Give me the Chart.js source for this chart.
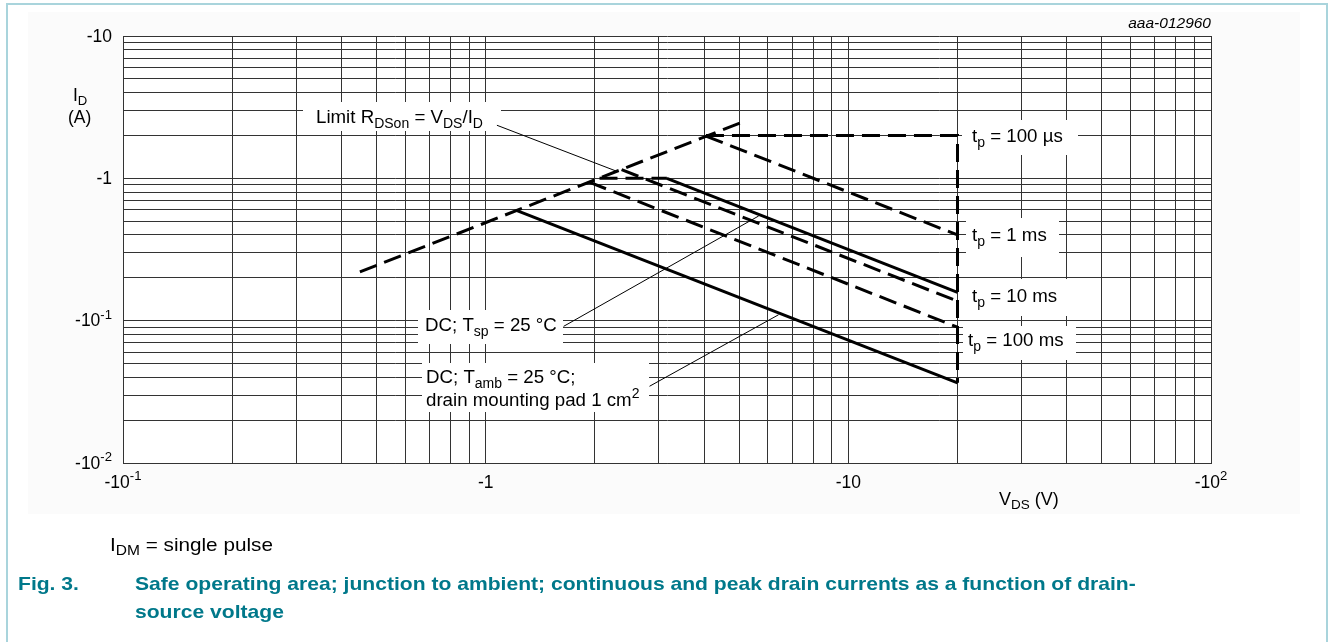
<!DOCTYPE html>
<html>
<head>
<meta charset="utf-8">
<script src="https://cdn.jsdelivr.net/npm/chart.js@4.4.1/dist/chart.umd.min.js"></script>
<style>
html, body { margin: 0; padding: 0; background: #fff; }
body { width: 1330px; height: 642px; position: relative; overflow: hidden; font-family: "Liberation Sans", Arial, sans-serif; }
#frame { position: absolute; left: 6px; top: 3px; width: 1322px; height: 700px; box-sizing: border-box;
  border-left: 2px solid #a9d4dc; border-top: 2px solid #a9d4dc; border-right: 2px solid #a9d4dc; }
#panel { position: absolute; left: 28px; top: 12px; width: 1272px; height: 502px; background: #fbfbfb; }
#chart { position: absolute; left: 0; top: 0; }
.txt { position: absolute; white-space: nowrap; line-height: 1; transform-origin: 0 50%; }
.txt sub { font-size: 0.75em; vertical-align: -0.3em; line-height: 0; }
#fig-id { right: 119px; top: 15px; font-size: 15.5px; font-style: italic; }
#note { left: 110px; top: 535px; font-size: 19px; transform: scaleX(1.09); }
.cap { font-size: 19px; font-weight: bold; color: #00788a; transform: scaleX(1.11); }
</style>
</head>
<body>
<div id="frame"></div>
<div id="panel"></div>
<canvas id="chart" width="1330" height="642"></canvas>
<div class="txt" id="fig-id">aaa-012960</div>
<div class="txt" id="note">I<sub>DM</sub> = single pulse</div>
<div class="txt cap" style="left:18px; top:574px;">Fig. 3.</div>
<div class="txt cap" style="left:135px; top:574px;">Safe operating area; junction to ambient; continuous and peak drain currents as a function of drain-</div>
<div class="txt cap" style="left:135px; top:602px;">source voltage</div>
<script>
// axis ranges (magnitudes, plotted as negative values on the labels)
const xMin = 0.1, xMax = 100;
const yMin = 0.01, yMax = 10;
const gridMantissas = [1, 2, 3, 4, 5, 6, 7, 8, 9];
const xDecades = [0.1, 1, 10];
const yDecades = [0.01, 0.1, 1];

const xTickValues = [0.1, 1, 10, 100];
const xTickText = [['-10', '-1'], ['-1', ''], ['-10', ''], ['-10', '2']];
const yTickValues = [10, 1, 0.1, 0.01];
const yTickText = [['-10', ''], ['-1', ''], ['-10', '-1'], ['-10', '-2']];

// curves: |VDS| (V) and |ID| (A)
const limitV = [0.45, 5.05];
const limitI = [0.22, 2.46];
const tp100usV = [4.05, 20, 20];
const tp100usI = [2.0, 2.0, 0.0366];
const tp1msV = [4.05, 20];
const tp1msI = [1.98, 0.40];
const tp10msV = [2.37, 20];
const tp10msI = [1.15, 0.137];
const tp100msV = [1.93, 20];
const tp100msI = [0.94, 0.090];
const idMaxV = [2.06, 3.16];
const idMaxI = [1.0, 1.0];
const dcTspV = [3.16, 20];
const dcTspI = [1.0, 0.158];
const dcTambV = [1.22, 20];
const dcTambI = [0.593, 0.0366];

// leader lines from the labels to the curves
const leadLimitV = [1.074, 2.30];
const leadLimitI = [2.36, 1.12];
const leadTspV = [1.64, 5.66];
const leadTspI = [0.0912, 0.544];
const leadTambV = [2.83, 6.42];
const leadTambI = [0.0346, 0.110];

const FONT = '"Liberation Sans", Arial, sans-serif';

// labels inside the plot, [text, style] parts; box = white area behind the text
const notes = [
    { x: 316, y: 118, box: [303, 102, 501, 131],
      lines: [[['Limit R'], ['DSon', 'sub'], [' = V'], ['DS', 'sub'], ['/I'], ['D', 'sub']]] },
    { x: 425, y: 326, box: [418, 310, 563, 344],
      lines: [[['DC; T'], ['sp', 'sub'], [' = 25 °C']]] },
    { x: 426, y: 378, box: [422, 363, 649, 412], lh: 23,
      lines: [[['DC; T'], ['amb', 'sub'], [' = 25 °C;']], [['drain mounting pad 1 cm'], ['2', 'sup']]] },
    { x: 972, y: 137, box: [962, 120, 1078, 155], lines: [[['t'], ['p', 'sub'], [' = 100 µs']]] },
    { x: 972, y: 236, box: [966, 218, 1059, 257], lines: [[['t'], ['p', 'sub'], [' = 1 ms']]] },
    { x: 972, y: 297, box: [966, 279, 1067, 316], lines: [[['t'], ['p', 'sub'], [' = 10 ms']]] },
    { x: 968, y: 341, box: [963, 326, 1076, 360], lines: [[['t'], ['p', 'sub'], [' = 100 ms']]] }
];

function pts(xs, ys) {
    return xs.map((x, i) => ({ x: x, y: ys[i] }));
}

function curve(xs, ys, dashed, width) {
    return {
        data: pts(xs, ys),
        showLine: true,
        borderColor: '#000',
        borderWidth: width,
        borderDash: dashed ? [18, 8] : [],
        borderCapStyle: 'butt',
        pointRadius: 0,
        pointHoverRadius: 0,
        fill: false
    };
}

function gridValues(decades, max) {
    const out = [];
    for (const d of decades) {
        for (const m of gridMantissas) out.push(m * d);
    }
    out.push(max);
    return out;
}

function drawParts(ctx, x, y, parts, size, align) {
    let w = 0;
    for (const p of parts) {
        ctx.font = (p[1] ? size * 0.75 : size) + 'px ' + FONT;
        w += ctx.measureText(p[0]).width;
    }
    let cx = align === 'right' ? x - w : (align === 'center' ? x - w / 2 : x);
    for (const p of parts) {
        ctx.font = (p[1] ? size * 0.75 : size) + 'px ' + FONT;
        let dy = 0;
        if (p[1] === 'sub') dy = size * 0.32;
        if (p[1] === 'sup') dy = -size * 0.38;
        ctx.fillText(p[0], cx, y + dy);
        cx += ctx.measureText(p[0]).width;
    }
}

const decor = {
    id: 'decor',
    beforeDraw(chart) {
        const a = chart.chartArea;
        const ctx = chart.ctx;
        ctx.save();
        ctx.fillStyle = '#fff';
        ctx.fillRect(a.left, a.top, a.right - a.left, a.bottom - a.top);
        ctx.restore();
    },
    beforeDatasetsDraw(chart) {
        const ctx = chart.ctx;
        ctx.save();
        ctx.fillStyle = '#fff';
        for (const n of notes) {
            ctx.fillRect(n.box[0], n.box[1], n.box[2] - n.box[0], n.box[3] - n.box[1]);
        }
        ctx.restore();
    },
    afterDraw(chart) {
        const ctx = chart.ctx;
        const xs = chart.scales.x, ys = chart.scales.y;
        ctx.save();
        ctx.fillStyle = '#000';
        ctx.textBaseline = 'middle';
        xTickValues.forEach((v, i) => {
            const t = xTickText[i];
            const parts = t[1] ? [[t[0]], [t[1], 'sup']] : [[t[0]]];
            drawParts(ctx, xs.getPixelForValue(v), 483, parts, 17.5, 'center');
        });
        yTickValues.forEach((v, i) => {
            const t = yTickText[i];
            const parts = t[1] ? [[t[0]], [t[1], 'sup']] : [[t[0]]];
            drawParts(ctx, 112, ys.getPixelForValue(v) + 1, parts, 17.5, 'right');
        });
        drawParts(ctx, 73, 96, [['I'], ['D', 'sub']], 17.5, 'left');
        drawParts(ctx, 68, 118, [['(A)']], 17.5, 'left');
        drawParts(ctx, 999, 500, [['V'], ['DS', 'sub'], [' (V)']], 18, 'left');
        for (const n of notes) {
            n.lines.forEach((ln, k) => drawParts(ctx, n.x, n.y + k * (n.lh || 0), ln, 18.7, 'left'));
        }
        ctx.restore();
    }
};

const gridStyle = { color: '#333', lineWidth: 1, drawTicks: false };

new Chart(document.getElementById('chart').getContext('2d'), {
    type: 'scatter',
    data: {
        datasets: [
            curve(limitV, limitI, true, 3),
            curve(tp100usV, tp100usI, true, 3),
            curve(tp1msV, tp1msI, true, 3),
            curve(tp10msV, tp10msI, true, 3),
            curve(tp100msV, tp100msI, true, 3),
            curve(idMaxV, idMaxI, true, 3),
            curve(dcTspV, dcTspI, false, 3),
            curve(dcTambV, dcTambI, false, 3),
            curve(leadLimitV, leadLimitI, false, 1),
            curve(leadTspV, leadTspI, false, 1),
            curve(leadTambV, leadTambI, false, 1)
        ]
    },
    options: {
        responsive: false,
        animation: false,
        devicePixelRatio: 1,
        layout: { padding: { left: 123, top: 36, right: 119, bottom: 179 } },
        plugins: { legend: { display: false }, tooltip: { enabled: false } },
        events: [],
        scales: {
            x: {
                type: 'logarithmic', min: xMin, max: xMax,
                grid: gridStyle,
                border: { display: true, color: '#333', width: 1 },
                ticks: { display: false },
                afterBuildTicks: (s) => { s.ticks = gridValues(xDecades, xMax).map(v => ({ value: v })); }
            },
            y: {
                type: 'logarithmic', min: yMin, max: yMax,
                grid: gridStyle,
                border: { display: true, color: '#333', width: 1 },
                ticks: { display: false },
                afterBuildTicks: (s) => { s.ticks = gridValues(yDecades, yMax).map(v => ({ value: v })); }
            }
        }
    },
    plugins: [decor]
});
</script>
</body>
</html>
